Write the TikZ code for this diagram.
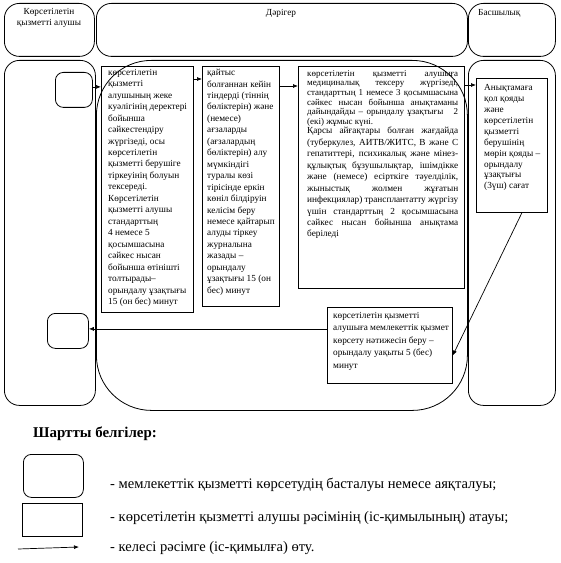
\documentclass[tikz,border=0pt]{standalone}
\usepackage{fontspec}
\setmainfont{Liberation Serif}
\usetikzlibrary{arrows.meta,calc}
\newcommand\bxfont{\fontsize{9.3}{11.5}\selectfont}
\newcommand\bxtight{\fontsize{9}{9.7}\selectfont}
\tikzset{
  lanebox/.style={draw, line width=0.8bp, anchor=north west, inner sep=0, rounded corners=15bp},
  stepbox/.style={draw, line width=0.8bp, anchor=north west, inner sep=0},
  termbox/.style={draw, line width=0.8bp, anchor=north west, inner sep=0, rounded corners=8bp},
  txt/.style={anchor=north west, inner sep=0, align=left, font=\bxfont},
  jtxt/.style={anchor=north west, inner sep=0, text width=151bp, align=justify},
  hdr/.style={inner sep=0, align=center, font=\bxfont},
  arr/.style={-{Latex[length=5bp,width=4bp]}, line width=0.7bp},
  legtxt/.style={anchor=west, inner sep=0, font=\fontsize{14.6}{16}\selectfont}
}
\begin{document}
\begin{tikzpicture}[x=1bp,y=-1bp]
\useasboundingbox (0,0) rectangle (561,563);
% headers
\node[lanebox, minimum width=90bp, minimum height=53bp] (h1) at (4,3) {};
\node[lanebox, minimum width=371bp, minimum height=53bp] (h2) at (96,3) {};
\node[lanebox, minimum width=87bp, minimum height=53bp] (h3) at (468,3) {};
\node[hdr] (h1t) at (49,18) {Көрсетілетін\\қызметті алушы};
\node[hdr] (h2t) at (281,13) {Дәрігер};
\node[hdr, anchor=west] (h3t) at (478,13) {Басшылық};
% lanes
\node[lanebox, minimum width=91bp, minimum height=345bp] (l1) at (4,60) {};
\node[lanebox, minimum width=371bp, minimum height=350bp, rounded corners=55bp] (l2) at (96,60) {};
\node[lanebox, minimum width=87bp, minimum height=345bp] (l3) at (468,60) {};
% start / end
\node[termbox, minimum width=37bp, minimum height=35bp] (start) at (55,72) {};
\node[termbox, minimum width=41bp, minimum height=35bp] (end) at (47,313) {};
% boxes
\node[stepbox, minimum width=92bp, minimum height=246bp] (b1) at (101,66) {};
\node[txt] (b1t) at (108,69) {көрсетілетін\\қызметті\\алушының жеке\\куәлігінің деректері\\бойынша\\сәйкестендіру\\жүргізеді, осы\\көрсетілетін\\қызметті берушіге\\тіркеуінің болуын\\тексереді.\\Көрсетілетін\\қызметті алушы\\стандарттың\\4 немесе 5\\қосымшасына\\сәйкес нысан\\бойынша өтінішті\\толтырады–\\орындалу ұзақтығы\\15 (он бес) минут};
\node[stepbox, minimum width=77bp, minimum height=240bp] (b2) at (202,66) {};
\node[txt] (b2t) at (207,69) {қайтыс\\болғаннан кейін\\тіндерді (тіннің\\бөліктерін) және\\(немесе)\\ағзаларды\\(ағзалардың\\бөліктерін) алу\\мүмкіндігі\\туралы көзі\\тірісінде еркін\\көніл білдіруін\\келісім беру\\немесе қайтарып\\алуды тіркеу\\журналына\\жазады –\\орындалу\\ұзақтығы 15 (он\\бес) минут};
\node[stepbox, minimum width=166bp, minimum height=222bp] (b3) at (298,66) {};
\node[jtxt, font=\bxtight] (b3a) at (307,70) {\hyphenpenalty=10000 \tolerance=9999 көрсетілетін қызметті алушыға\linebreak медициналық тексеру жүргізеді,\linebreak стандарттың 1 немесе 3 қосымшасына\linebreak сәйкес нысан бойынша анықтаманы\linebreak дайындайды – орындалу ұзақтығы\ \ \ 2\linebreak (екі) жұмыс күні.};
\node[jtxt, font=\bxfont] (b3b) at (307,127) {\hyphenpenalty=10000 \tolerance=9999 Қарсы айғақтары болған жағдайда\linebreak (туберкулез, АИТВ/ЖИТС, В және С\linebreak гепатиттері, психикалық және мінез-\linebreak құлықтық бұзушылықтар, ішімдікке\linebreak және (немесе) есірткіге тәуелділік,\linebreak жыныстық жолмен жұғатын\linebreak инфекциялар) трансплантатту жүргізу\linebreak үшін стандарттың 2 қосымшасына\linebreak сәйкес нысан бойынша анықтама\linebreak беріледі};
\node[stepbox, minimum width=71bp, minimum height=134bp] (b4) at (476,78) {};
\node[txt, font=\fontsize{9.3}{11}\selectfont] (b4t) at (484,84) {Анықтамаға\\қол қояды\\және\\көрсетілетін\\қызметті\\берушінің\\мөрін қояды –\\орындалу\\ұзақтығы\\(3үш) сағат};
\node[stepbox, minimum width=125bp, minimum height=76bp] (b5) at (327,307) {};
\node[txt, font=\fontsize{9.3}{12.6}\selectfont] (b5t) at (333,312) {көрсетілетін қызметті\\алушыға мемлекеттік қызмет\\көрсету нәтижесін беру –\\орындалу уақыты 5 (бес)\\минут};
% connectors
\draw[arr] ([yshift=3bp]start.east) -- ([yshift=3bp]start.east -| b1.west);
\draw[arr] ([yshift=-13bp]b1.north east) -- ([yshift=-13bp]b1.north east -| b2.west);
\draw[arr] ([yshift=-20bp]b2.north east) -- ([yshift=-20bp]b2.north east -| b3.west);
\draw[arr] ([yshift=-19bp]b3.north east) -- ([yshift=-19bp]b3.north east -| b4.west);
\draw[arr] ([xshift=10bp]b4.south) -- ([yshift=-10bp]b5.east);
\draw[arr] ([yshift=2bp]b5.west |- end.east) -- ([yshift=2bp]end.east);
% legend
\node[anchor=west, inner sep=0, font=\fontsize{15}{17}\selectfont\bfseries] (legt) at (33,434) {Шартты белгілер:};
\node[termbox, minimum width=60bp, minimum height=43bp] (lg1) at (23,454) {};
\node[stepbox, minimum width=60bp, minimum height=33bp] (lg2) at (22,503) {};
\coordinate (la) at (18,549);
\coordinate (lb) at (79,547);
\draw[arr] (la) -- (lb);
\node[legtxt] (lt1) at (110,485) {- мемлекеттік қызметті көрсетудің басталуы немесе аяқталуы;};
\node[legtxt] (lt2) at (110,518) {- көрсетілетін қызметті алушы рәсімінің (іс-қимылының) атауы;};
\node[legtxt] (lt3) at (110,548) {- келесі рәсімге (іс-қимылға) өту.};
\end{tikzpicture}
\end{document}
